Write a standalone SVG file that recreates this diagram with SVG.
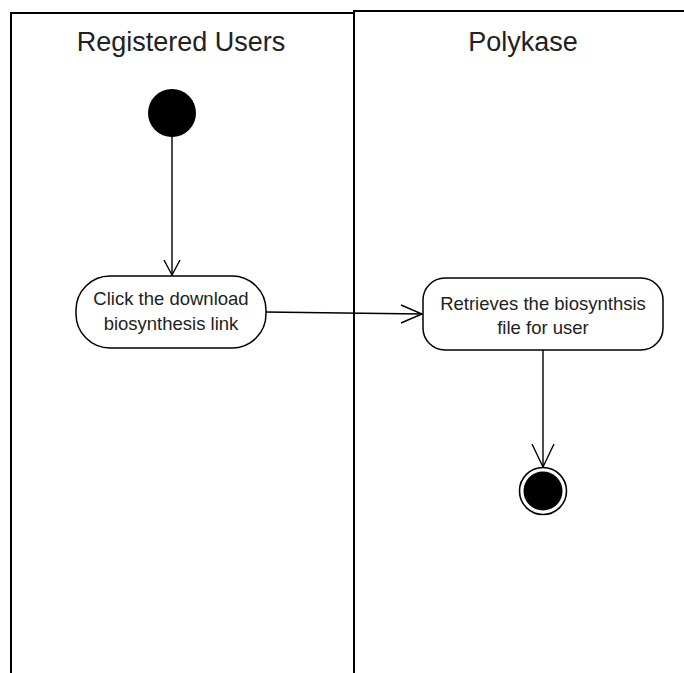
<svg xmlns="http://www.w3.org/2000/svg" width="684" height="673" viewBox="0 0 684 673">
  <style>
    .lane { fill: none; stroke: #000; stroke-width: 2; }
    .title { font-family: "Liberation Sans", Arial, sans-serif; font-size: 27px; fill: #222; text-anchor: middle; }
    .label { font-family: "Liberation Sans", Arial, sans-serif; font-size: 18.5px; fill: #222; text-anchor: middle; }
    .action { fill: #fff; stroke: #000; stroke-width: 1.5; }
    .flow { fill: none; stroke: #000; stroke-width: 1.4; }
    .head { fill: none; stroke: #000; stroke-width: 1.4; }
  </style>

  <rect width="684" height="673" fill="#fff"/>

  <!-- swimlanes -->
  <g id="lane-users">
    <path class="lane" d="M11,673 V13 H354"/>
    <text class="title" x="181" y="51">Registered Users</text>
  </g>
  <g id="lane-polykase">
    <path class="lane" d="M354,673 V11 H684"/>
    <text class="title" x="523" y="51">Polykase</text>
  </g>

  <!-- connectors -->
  <g id="connectors">
    <line class="flow" x1="172" y1="136" x2="172" y2="275"/>
    <path class="head" d="M164,260 L172,275 L180,260"/>
    <line class="flow" x1="265" y1="312" x2="422" y2="314"/>
    <path class="head" d="M401,305 L422,314 L401,323"/>
    <line class="flow" x1="543" y1="350" x2="543" y2="467"/>
    <path class="head" d="M532,444 L543,467 L554,444"/>
  </g>

  <g id="start">
    <circle cx="172" cy="113" r="24" fill="#000"/>
  </g>

  <g id="click-download">
    <rect class="action" x="76" y="276" width="190" height="72" rx="34" ry="34"/>
    <text class="label" x="171" y="305">Click the download</text>
    <text class="label" x="171" y="330">biosynthesis link</text>
  </g>

  <g id="retrieve-file">
    <rect class="action" x="423" y="278" width="240" height="72" rx="22" ry="22"/>
    <text class="label" x="543" y="310">Retrieves the biosynthsis</text>
    <text class="label" x="543" y="334">file for user</text>
  </g>

  <g id="end">
    <circle cx="543" cy="491" r="23.5" fill="#fff" stroke="#000" stroke-width="1.6"/>
    <circle cx="543" cy="491" r="19.5" fill="#000"/>
  </g>
</svg>
